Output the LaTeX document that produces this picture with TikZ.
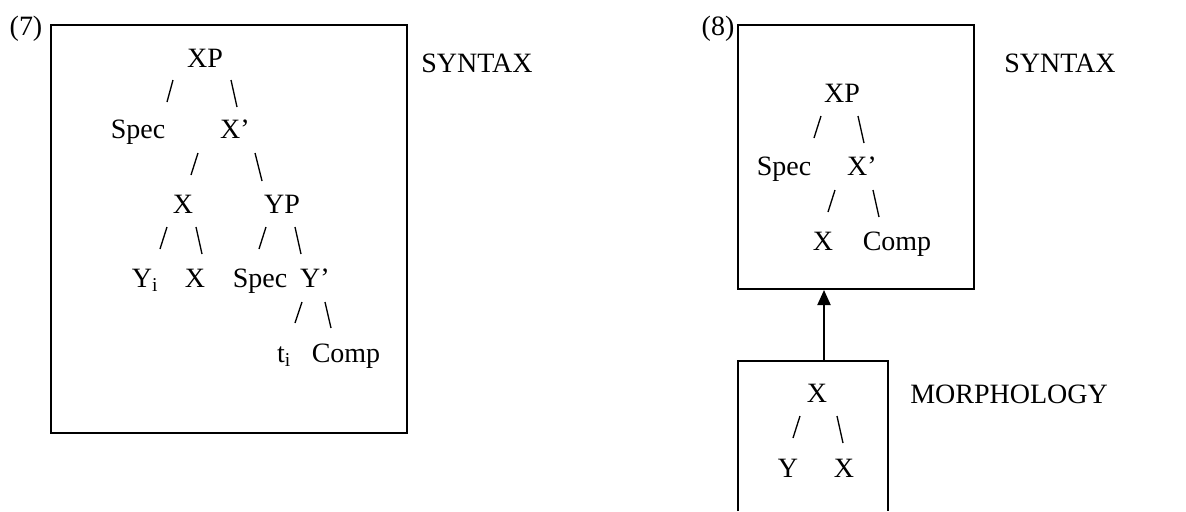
\documentclass[tikz,border=0pt]{standalone}
\usepackage{fontspec}
\setmainfont{Liberation Serif}
\usetikzlibrary{arrows.meta}

\begin{document}
\begin{tikzpicture}[x=0.75pt,y=-0.75pt,
		every node/.style={font=\fontsize{21}{25}\selectfont, inner sep=0pt, anchor=base},
		box/.style={line width=1.5pt},
		branch/.style={line width=1pt}]
		\useasboundingbox (0,0) rectangle (1186,511);
		% boxes
		\draw[box] (51,25) rectangle (407,433);
		\draw[box] (738,25) rectangle (974,289);
		\draw[box] (738,511) -- (738,361) -- (888,361) -- (888,511);
		% labels
		\node (ex7) at (26,35) {(7)};
		\node (ex8) at (718,35) {(8)};
		\node[anchor=base west] (syntaxA) at (421,72) {SYNTAX};
		\node[anchor=base west] (syntaxB) at (1004,72) {SYNTAX};
		\node[anchor=base west] (morph) at (910,403) {MORPHOLOGY};
		% tree nodes
		\foreach \name/\x/\y/\txt in {%
			xpA/205/67/XP, specA/138/138/Spec, xbarA/235/138/X’,
			xA/183/213/X, ypA/282/213/YP,
			yiA/145/287/{Y\textsubscript{i}}, xhA/195/287/X, specB/260/287/Spec, ybarA/315/287/Y’,
			tiA/284/362/{t\textsubscript{i}}, compA/346/362/Comp,
			xpB/842/102/XP, specC/784/175/Spec, xbarB/862/175/X’,
			xB/823/250/X, compB/897/250/Comp,
			xC/817/402/X, yC/788/477/Y, xD/844/477/X}%
		{
			\node (\name) at (\x,\y) {\txt};
		};
		% branches
		\foreach \xa/\ya/\xb/\yb in {%
			173/80/167/102, 231/80/237/107,
			198/153/191/175, 255/153/262/181,
			167/227/160/249, 196/227/202/254,
			266/227/259/249, 295/227/301/254,
			302/302/295/323, 325/302/331/328,
			821/116/814/138, 858/116/864/143,
			835/190/828/212, 873/190/879/217,
			800/416/793/438, 837/416/843/443}%
		{
			\draw[branch] (\xa,\ya) -- (\xb,\yb);
		};
		% arrow
		\coordinate (morphtop) at (824,361);
		\coordinate (syntaxbottom) at (824,290);
		\draw[box, -{Triangle[width=9.75pt, length=11.25pt]}] (morphtop) -- (syntaxbottom);
	\end{tikzpicture}
\end{document}
